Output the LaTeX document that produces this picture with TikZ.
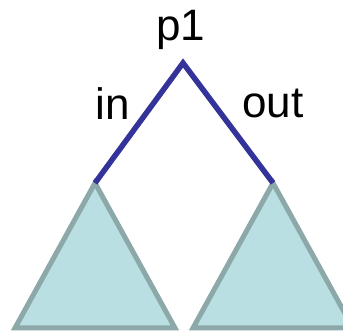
\documentclass[tikz,border=0pt]{standalone}
\usepackage{fontspec}
\setsansfont{Liberation Sans}

\definecolor{edgeblue}{HTML}{333399}
\definecolor{treeline}{HTML}{8CA8A8}
\definecolor{treefill}{HTML}{B9DFE2}

\begin{document}
\begin{tikzpicture}[
    x=1pt,
    y=-1pt,
    font=\sffamily\fontsize{44}{52}\selectfont,
    branch/.style={
        draw=edgeblue,
        line width=5.5pt
    },
    subtree/.style={
        draw=treeline,
        fill=treefill,
        line width=5pt,
        line join=miter
    },
    tag/.style={
        anchor=base,
        inner sep=0pt
    }
]

\clip (0,0) rectangle (343,331);

% --------------------------------------------------
% Points
% --------------------------------------------------

\coordinate (root) at (183,63);
\coordinate (left) at (95,183);
\coordinate (right) at (273,183);

% --------------------------------------------------
% Subtrees
% --------------------------------------------------

\draw[subtree] (left) -- (15,328) -- (175,328) -- cycle;

\draw[subtree] (right) -- (193,328) -- (353,328) -- cycle;

% --------------------------------------------------
% Branches
% --------------------------------------------------

\draw[branch] (left) -- (root) -- (right);

% --------------------------------------------------
% Labels
% --------------------------------------------------

\node[tag] (name) at (181,41) {p1};

\node[tag] (inlabel) at (113,120) {in};

\node[tag] (outlabel) at (273,118) {out};

\end{tikzpicture}
\end{document}
